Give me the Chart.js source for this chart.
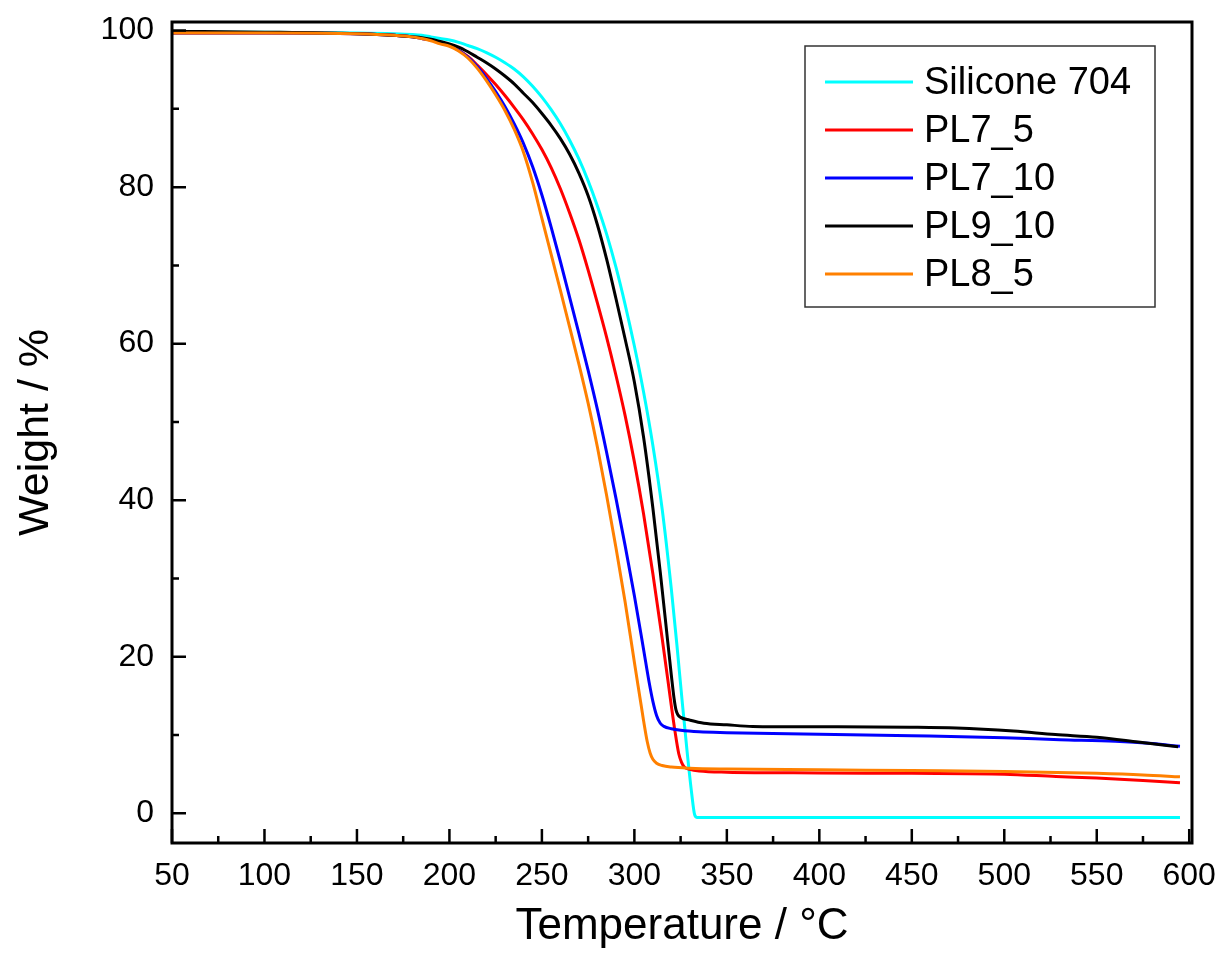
<!DOCTYPE html>
<html>
<head>
<meta charset="utf-8">
<script src="https://cdn.jsdelivr.net/npm/chart.js@4/dist/chart.umd.min.js"></script>
<style>
  body { margin: 0; background: #fff; }
  canvas { display: block; }
</style>
</head>
<body>
<canvas id="tgaChart" width="1224" height="963"></canvas>
<script>
// TGA curves: temperature (°C) vs remaining weight (%)
const siliconeTemp   = [50, 100, 150, 170, 180, 185, 190, 195, 200, 205, 210, 215, 220, 225, 230, 235, 240, 245, 250, 255, 260, 265, 270, 275, 280, 285, 290, 295, 300, 305, 310, 315, 320, 323, 326, 328.5, 331, 332.6, 334, 400, 500, 595]
const siliconeWeight = [99.8, 99.8, 99.7, 99.6, 99.5, 99.4, 99.2, 99.0, 98.8, 98.5, 98.1, 97.7, 97.2, 96.6, 95.9, 95.1, 94.1, 92.9, 91.5, 89.9, 88.1, 86.0, 83.6, 80.8, 77.6, 74.0, 69.8, 65.0, 59.7, 53.8, 47.0, 38.9, 28.6, 21.5, 13.9, 7.9, 2.5, -0.2, -0.55, -0.55, -0.55, -0.55]

const pl75Temp   = [50, 100, 150, 170, 180, 185, 190, 195, 200, 205, 210, 215, 220, 225, 230, 235, 240, 245, 250, 255, 260, 265, 270, 275, 280, 285, 290, 295, 300, 305, 310, 315, 318, 320, 322, 324, 325.5, 327, 330, 335, 350, 400, 450, 500, 528, 550, 575, 595]
const pl75Weight = [99.7, 99.7, 99.6, 99.4, 99.2, 99.0, 98.8, 98.5, 98.1, 97.5, 96.7, 95.6, 94.4, 93.1, 91.7, 90.2, 88.6, 86.8, 84.8, 82.5, 79.8, 76.7, 73.3, 69.4, 65.2, 60.8, 56.0, 50.8, 44.9, 38.2, 30.6, 22.4, 17.2, 13.7, 10.4, 7.6, 6.5, 5.9, 5.6, 5.4, 5.25, 5.15, 5.1, 5.0, 4.7, 4.5, 4.2, 3.9]

const pl710Temp   = [50, 100, 150, 170, 180, 185, 190, 195, 200, 205, 210, 215, 220, 225, 230, 235, 240, 245, 250, 255, 260, 265, 270, 275, 280, 285, 290, 295, 300, 305, 308, 310, 312, 314, 316, 320, 325, 335, 350, 400, 450, 500, 530, 560, 580, 595]
const pl710Weight = [99.7, 99.7, 99.6, 99.4, 99.2, 99.0, 98.8, 98.4, 98.1, 97.5, 96.6, 95.4, 93.9, 92.2, 90.3, 88.1, 85.6, 82.6, 79.0, 74.9, 70.5, 65.9, 61.3, 56.6, 51.6, 46.1, 40.3, 34.2, 27.8, 20.9, 16.7, 14.3, 12.5, 11.5, 11.1, 10.8, 10.6, 10.4, 10.3, 10.1, 9.9, 9.65, 9.4, 9.2, 8.9, 8.55]

const pl910Temp   = [50, 100, 150, 170, 180, 185, 190, 195, 200, 205, 210, 215, 220, 225, 230, 235, 240, 245, 250, 255, 260, 265, 270, 275, 280, 285, 290, 295, 300, 305, 310, 314, 318, 320, 321.5, 322.5, 323.5, 325, 330, 337.6, 350, 364, 400, 449, 474, 505, 527.6, 550, 572.4, 594]
const pl910Weight = [99.9, 99.8, 99.6, 99.4, 99.2, 99.1, 98.9, 98.6, 98.3, 97.9, 97.3, 96.6, 95.9, 95.1, 94.2, 93.2, 92.0, 90.8, 89.4, 87.9, 86.2, 84.2, 81.8, 78.9, 75.2, 70.8, 65.8, 60.6, 55.1, 48.0, 39.0, 30.8, 22.0, 17.6, 14.6, 13.2, 12.6, 12.25, 11.9, 11.5, 11.3, 11.1, 11.05, 11.0, 10.9, 10.5, 10.05, 9.7, 9.1, 8.5]

const pl85Temp   = [50, 100, 150, 170, 180, 185, 190, 195, 200, 205, 210, 215, 220, 225, 230, 235, 240, 245, 250, 255, 260, 265, 270, 275, 280, 285, 290, 295, 300, 303, 305, 307, 308.5, 310, 312, 315, 320, 330, 350, 400, 450, 500, 550, 575, 595]
const pl85Weight = [99.7, 99.7, 99.6, 99.4, 99.2, 99.0, 98.7, 98.3, 98.0, 97.4, 96.5, 95.2, 93.6, 91.8, 89.8, 87.4, 84.5, 80.6, 76.0, 71.4, 66.8, 62.1, 57.4, 52.4, 46.8, 40.6, 34.0, 27.0, 19.3, 14.8, 11.8, 9.1, 7.7, 6.9, 6.4, 6.1, 5.9, 5.75, 5.65, 5.55, 5.45, 5.35, 5.1, 4.9, 4.65]

const seriesLabels = ['Silicone 704', 'PL7_5', 'PL7_10', 'PL9_10', 'PL8_5']
const seriesColors = ['#00ffff', '#ff0000', '#0000ff', '#000000', '#ff8000']
const seriesTemps = [siliconeTemp, pl75Temp, pl710Temp, pl910Temp, pl85Temp]
const seriesWeights = [siliconeWeight, pl75Weight, pl710Weight, pl910Weight, pl85Weight]

const xTickValues = [50, 100, 150, 200, 250, 300, 350, 400, 450, 500, 550, 600]
const yTickValues = [0, 20, 40, 60, 80, 100]
const xMinorTicks = [75, 125, 175, 225, 275, 325, 375, 425, 475, 525, 575]
const yMinorTicks = [10, 30, 50, 70, 90]

const FONT = 'Arial, "Liberation Sans", sans-serif'

const datasets = seriesLabels.map((label, i) => ({
    label,
    data: seriesTemps[i].map((t, j) => ({ x: t, y: seriesWeights[i][j] })),
    borderColor: seriesColors[i],
    borderWidth: 3,
    pointRadius: 0,
    fill: false,
    cubicInterpolationMode: 'monotone',
    // later series sit on top
    order: seriesLabels.length - i
}))

// box frame, inward ticks and the legend box
const framePlugin = {
    id: 'framePlugin',
    afterDatasetsDraw(chart) {
        const { ctx, chartArea: a, scales: { x, y } } = chart
        ctx.save()
        ctx.strokeStyle = '#000'
        ctx.lineWidth = 2.5
        ctx.lineCap = 'butt'
        ctx.beginPath()
        xTickValues.forEach(v => {
            const px = x.getPixelForValue(v)
            ctx.moveTo(px, a.bottom); ctx.lineTo(px, a.bottom - 14)
        })
        xMinorTicks.forEach(v => {
            const px = x.getPixelForValue(v)
            ctx.moveTo(px, a.bottom); ctx.lineTo(px, a.bottom - 7)
        })
        yTickValues.forEach(v => {
            const py = y.getPixelForValue(v)
            ctx.moveTo(a.left, py); ctx.lineTo(a.left + 14, py)
        })
        yMinorTicks.forEach(v => {
            const py = y.getPixelForValue(v)
            ctx.moveTo(a.left, py); ctx.lineTo(a.left + 7, py)
        })
        ctx.stroke()
        ctx.lineWidth = 3
        ctx.strokeRect(a.left, a.top, a.right - a.left, a.bottom - a.top)

        // legend
        const bx = 805, by = 46, bw = 350, bh = 261
        ctx.fillStyle = '#fff'
        ctx.fillRect(bx, by, bw, bh)
        ctx.lineWidth = 1.5
        ctx.strokeStyle = '#333'
        ctx.strokeRect(bx, by, bw, bh)
        ctx.font = '38px ' + FONT
        ctx.textBaseline = 'middle'
        ctx.textAlign = 'left'
        chart.data.datasets.forEach((ds, i) => {
            const ry = 82 + i * 48
            ctx.strokeStyle = ds.borderColor
            ctx.lineWidth = 3
            ctx.beginPath()
            ctx.moveTo(825, ry); ctx.lineTo(913, ry)
            ctx.stroke()
            ctx.fillStyle = '#000'
            ctx.fillText(ds.label, 924, ry + 2)
        })
        ctx.restore()
    }
}

const noPad = s => {
    s.paddingTop = 0; s.paddingBottom = 0
    s.paddingLeft = 0; s.paddingRight = 0
}

new Chart('tgaChart', {
    type: 'line',
    data: { datasets },
    options: {
        responsive: false,
        animation: false,
        layout: { padding: { top: 22, right: 32, left: 0, bottom: 0 } },
        plugins: { legend: { display: false }, tooltip: { enabled: false } },
        scales: {
            x: {
                type: 'linear',
                min: 50,
                max: 601.5,
                grid: { display: false, drawTicks: false },
                border: { display: false },
                afterBuildTicks: s => { s.ticks = xTickValues.map(v => ({ value: v })) },
                afterFit: s => { s.height = 120; noPad(s) },
                ticks: { color: '#000', padding: 14, maxRotation: 0, font: { family: FONT, size: 32 } },
                title: { display: true, text: 'Temperature / °C', color: '#000', padding: { top: 0, bottom: 10 }, font: { family: FONT, size: 44 } }
            },
            y: {
                type: 'linear',
                min: -3.8,
                max: 101.1,
                grid: { display: false, drawTicks: false },
                border: { display: false },
                afterBuildTicks: s => { s.ticks = yTickValues.map(v => ({ value: v })) },
                afterFit: s => { s.width = 172; noPad(s) },
                ticks: { color: '#000', padding: 18, font: { family: FONT, size: 32 } },
                title: { display: true, text: 'Weight / %', color: '#000', padding: { top: 10, bottom: 0 }, font: { family: FONT, size: 43 } }
            }
        }
    },
    plugins: [framePlugin]
})
</script>
</body>
</html>
